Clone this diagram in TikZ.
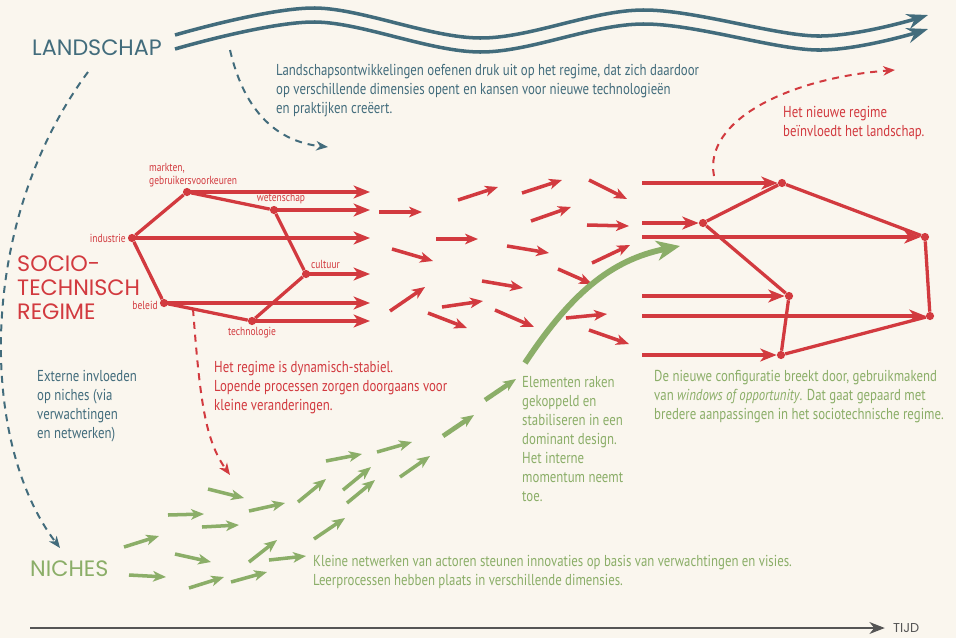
\documentclass[tikz,border=0pt]{standalone}
\usepackage{fontspec}
\setmainfont{PT Sans}[FakeStretch=0.81]
\newfontfamily\headfont{Poppins}
\usetikzlibrary{arrows.meta,positioning}
\definecolor{paper}{HTML}{FAF6EE}
\definecolor{landcol}{HTML}{426C7C}
\definecolor{regcol}{HTML}{D23A3F}
\definecolor{nichecol}{HTML}{8BAE68}
\definecolor{axiscol}{HTML}{555555}

\tikzset{
  head/.style={font=\headfont\fontsize{19}{20.5}\selectfont, inner sep=0pt, align=left},
  txt/.style={font=\fontsize{13.5}{16.2}\selectfont, inner sep=0pt, align=left, anchor=north west},
  lab/.style={font=\fontsize{10}{11}\selectfont, text=regcol, inner sep=1.5pt},
  dot/.style={circle, fill=regcol, inner sep=0pt, minimum size=7pt},
  regedge/.style={draw=regcol, line width=2.8pt},
  regarrow/.style={regedge, -{Stealth[length=14pt,width=11pt,inset=4pt]}},
  redbit/.style={draw=regcol, line width=3pt, -{Stealth[length=11pt,width=9pt,inset=3pt]}},
  greenbit/.style={draw=nichecol, line width=3pt, -{Stealth[length=11pt,width=9pt,inset=3pt]}},
  greenbig/.style={draw=nichecol, line width=5pt, -{Stealth[length=20pt,width=17pt,inset=6pt]}},
  landline/.style={draw=landcol, line width=3pt, -{Stealth[length=18pt,width=13pt,inset=6pt]}},
  landdash/.style={draw=landcol, line width=1.7pt, dash pattern=on 6pt off 5pt, -{Stealth[length=10pt,width=8pt,inset=3pt]}},
  regdash/.style={draw=regcol, line width=1.7pt, dash pattern=on 6pt off 5pt, -{Stealth[length=10pt,width=8pt,inset=3pt]}},
  timeaxis/.style={draw=axiscol, line width=2.2pt, -{Stealth[length=13pt,width=10pt,inset=4pt]}}
}

\begin{document}
\begin{tikzpicture}[x=0.03cm,y=-0.03cm]
  \useasboundingbox (0,0) rectangle (956,638);
  \fill[paper] (0,0) rectangle (956,638);

  % headings
  \node[head, text=landcol, anchor=west] (land) at (32,48) {LANDSCHAP};
  \node[head, text=regcol, anchor=north west] (regime) at (17,256) {SOCIO-\\TECHNISCH\\REGIME};
  \node[head, text=nichecol, anchor=west] (niches) at (30,569) {NICHES};
  \node[head, text=axiscol, anchor=west, font=\headfont\fontsize{11}{12}\selectfont] (tijd) at (893,628) {TIJD};

  % landscape
  \foreach \d in {0,14}
    \draw[landline] plot[smooth, tension=0.55] coordinates
      {(175,35+\d) (315,8+\d) (480,38+\d) (643,10+\d) (817,36+\d) (928,15+\d)};

  \coordinate (d1s) at (88,72);
  \coordinate (d1e) at (60,548);
  \draw[landdash] (d1s) .. controls (-22,220) and (-22,440) .. (d1e);
  \coordinate (d2s) at (230,50);
  \coordinate (d2e) at (328,147);
  \draw[landdash] (d2s) .. controls (245,115) and (280,142) .. (d2e);

  \node[txt, text=landcol] (landtxt) at (276,64)
    {Landschapsontwikkelingen oefenen druk uit op het regime, dat zich daardoor\\
     op verschillende dimensies opent en kansen voor nieuwe technologieën\\
     en praktijken creëert.};

  % old regime
  \node[dot] (mark) at (187,192) {};
  \node[dot, label={[lab, xshift=6pt]above:wetenschap}] (weten) at (274,210) {};
  \node[dot, label={[lab]left:industrie}] (indu) at (132,238) {};
  \node[dot, label={[lab]above right:cultuur}] (cult) at (306,274) {};
  \node[dot, label={[lab, yshift=-2pt]left:beleid}] (bel) at (164,303) {};
  \node[dot, label={[lab]below:technologie}] (tech) at (252,321) {};
  \node[lab, anchor=south west, align=left, inner sep=0pt] (tmark) at (149,187) {markten,\\gebruikersvoorkeuren};

  \path[regedge] (mark) edge (indu) edge (weten)
    (weten) edge (cult)
    (cult) edge (tech)
    (tech) edge (bel)
    (bel) edge (indu);

  \coordinate (rend) at (370,0);
  \foreach \n in {mark,weten,indu,cult,bel,tech}
    \draw[regarrow] (\n.center) -- (\n -| rend);

  % dynamic-stable regime
  \foreach \xa/\ya/\xb/\yb in {379/212/422/212, 458/200/498/187, 522/193/562/180,
      589/180/627/199, 531/221/571/207, 587/225/629/226, 436/239/478/239,
      392/249/433/261, 507/246/549/253, 592/263/630/245, 558/269/592/284,
      482/281/523/288, 390/311/425/287, 442/307/483/301, 428/313/467/328,
      495/310/534/327, 566/318/607/314, 589/330/629/344}
    \draw[redbit] (\xa,\ya) -- (\xb,\yb);

  \coordinate (d3s) at (193,309);
  \coordinate (d3e) at (230,475);
  \draw[regdash] (d3s) .. controls (200,400) and (205,440) .. (d3e);

  \node[txt, text=regcol] (stabtxt) at (214,361)
    {Het regime is dynamisch-stabiel.\\
     Lopende processen zorgen doorgaans voor\\
     kleine veranderingen.};

  % new regime
  \node[dot] (nA) at (782,183) {};
  \node[dot] (nB) at (703,223) {};
  \node[dot] (nC) at (925,237) {};
  \node[dot] (nD) at (789,296) {};
  \node[dot] (nE) at (930,316) {};
  \node[dot] (nF) at (781,355) {};
  \path[regedge] (nB) edge (nA)
    (nA) edge (nC)
    (nC) edge (nE)
    (nE) edge (nF)
    (nF) edge (nD)
    (nD) edge (nB);
  \coordinate (lstart) at (642,0);
  \foreach \n in {nA,nB,nC,nD,nE,nF}
    \draw[regarrow] (\n -| lstart) -- (\n);

  \coordinate (d4s) at (714,176);
  \coordinate (d4e) at (895,70);
  \draw[regdash] (d4s) .. controls (703,120) and (790,78) .. (d4e);
  \node[txt, text=regcol] (newtxt) at (783,106)
    {Het nieuwe regime\\beïnvloedt het landschap.};

  % niches
  \foreach \xa/\ya/\xb/\yb in {124/547/159/536, 129/575/166/577, 168/515/204/514,
      175/554/211/562, 189/588/224/577, 202/527/239/525, 208/489/244/498,
      231/582/267/572, 249/511/285/503, 249/562/277/540, 269/560/306/556,
      298/502/326/479, 314/539/345/518, 326/461/362/454, 343/490/371/467,
      347/503/375/480, 377/452/412/442, 400/477/430/456}
    \draw[greenbit] (\xa,\ya) -- (\xb,\yb);
  \draw[greenbit, line width=4pt] (443,436) -- (474,415);
  \draw[greenbit, line width=4pt] (485,400) -- (516,379);
  \coordinate (gs) at (525,363);
  \coordinate (ge) at (680,246);
  \draw[greenbig] (gs) .. controls (570,295) and (610,260) .. (ge);

  \node[txt, text=landcol] (exttxt) at (37,370)
    {Externe invloeden\\op niches (via\\verwachtingen\\en netwerken)};
  \node[txt, text=nichecol] (nichetxt) at (313,555)
    {Kleine netwerken van actoren steunen innovaties op basis van verwachtingen en visies.\\
     Leerprocessen hebben plaats in verschillende dimensies.};
  \node[txt, text=nichecol] (domtxt) at (522,376)
    {Elementen raken\\gekoppeld en\\stabiliseren in een\\dominant design.\\Het interne\\momentum neemt\\toe.};
  \node[txt, text=nichecol] (conftxt) at (654,370)
    {De nieuwe configuratie breekt door, gebruikmakend\\
     van \textit{windows of opportunity}. Dat gaat gepaard met\\
     bredere aanpassingen in het sociotechnische regime.};

  % time
  \coordinate (axstart) at (30,628);
  \draw[timeaxis] (axstart) -- ([xshift=-7pt]tijd.west);
\end{tikzpicture}
\end{document}
